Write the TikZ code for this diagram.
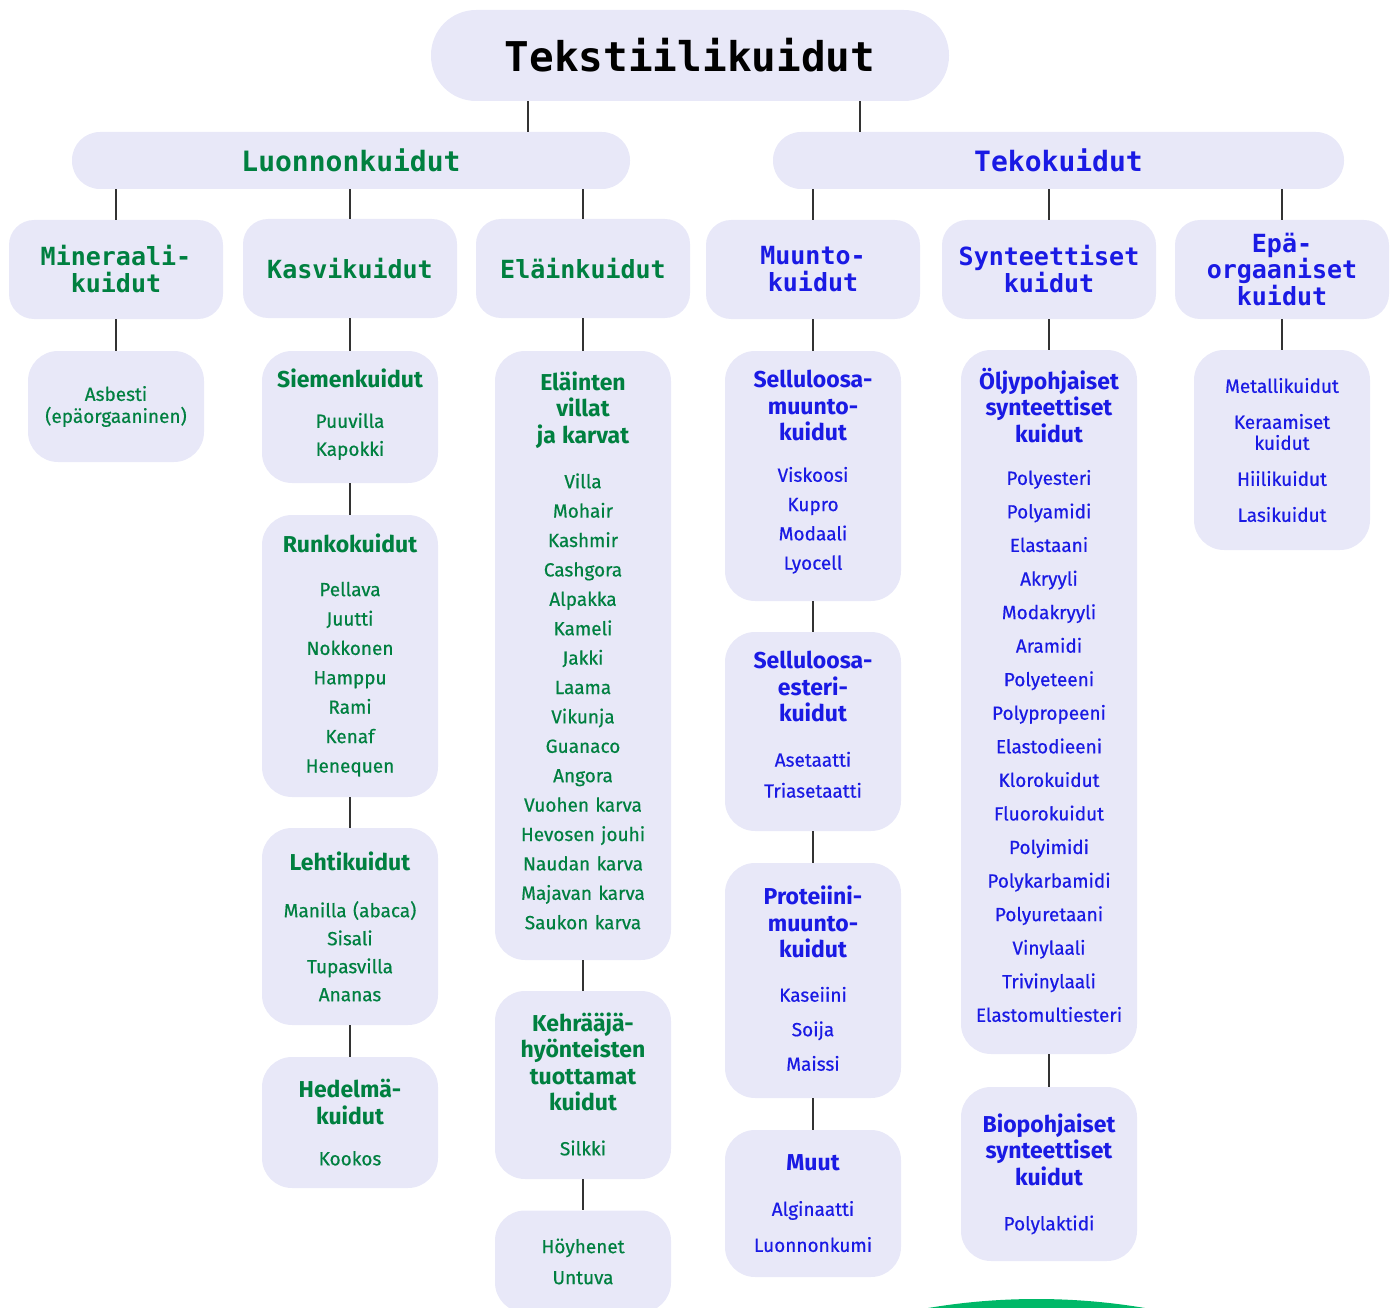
\documentclass[tikz,border=0pt]{standalone}
\usepackage{fontspec}
\setmainfont{Fira Sans}[UprightFeatures={FakeBold=0.5}]
\setmonofont{DejaVu Sans Mono}
\usepackage{tikz}
\definecolor{boxfill}{RGB}{232,232,248}
\definecolor{natgreen}{RGB}{0,128,64}
\definecolor{manblue}{RGB}{26,26,228}
\definecolor{arcgreen}{RGB}{0,184,104}
\newcommand{\grouphead}[1]{{\bfseries\fontsize{23}{26.5}\selectfont #1\par}}

\begin{document}
\begin{tikzpicture}[
    x=1pt, y=-1pt,
    rootbox/.style={fill=boxfill, rounded corners=45pt, minimum width=518pt, minimum height=91pt, font=\ttfamily\bfseries\fontsize{41}{41}\selectfont},
    branchbox/.style={fill=boxfill, rounded corners=28pt, minimum height=57pt, font=\ttfamily\bfseries\fontsize{28}{28}\selectfont},
    kindbox/.style={fill=boxfill, rounded corners=25pt, minimum width=214pt, minimum height=99pt, align=center, font=\ttfamily\bfseries\fontsize{25}{27}\selectfont},
    fibrebox/.style={fill=boxfill, rounded corners=30pt, minimum width=176pt, text width=170pt, inner sep=3pt, align=center},
    rows/.style={font=\fontsize{19}{#1}\selectfont},
    lift/.style={execute at end node={\endgraf\vspace{#1}}},
    natural/.style={text=natgreen},
    manmade/.style={text=manblue},
    link/.style={draw=black!80, line width=1.2pt}
]
    \useasboundingbox (0,0) rectangle (1395,1308);
    \clip (0,0) rectangle (1395,1308);

    % Root and main branches
    \node[rootbox] (root) at (690,55.5) {Tekstiilikuidut};
    \node[branchbox, natural, minimum width=558pt] (luonnon) at (351,160.5) {Luonnonkuidut};
    \node[branchbox, manmade, minimum width=571pt] (teko) at (1058.5,160.5) {Tekokuidut};

    % --- KINDS ---
    \node[kindbox, natural] (mineraali) at (116,269.5) {Mineraali-\\kuidut};
    \node[kindbox, natural] (kasvi) at (350,268.5) {Kasvikuidut};
    \node[kindbox, natural] (elain) at (583,268.5) {Eläinkuidut};
    \node[kindbox, manmade] (muunto) at (813,269.5) {Muunto-\\kuidut};
    \node[kindbox, manmade] (synt) at (1049,269.5) {Synteettiset\\kuidut};
    \node[kindbox, manmade] (epaorg) at (1282,269.5) {Epä-\\[-0.5pt]orgaaniset\\[-0.5pt]kuidut};

    % Mineral fibres
    \node[fibrebox, natural, rows=22, minimum height=111pt] (asbesti) at (116,406.5) {Asbesti\\(epäorgaaninen)};

    % Plant fibres
    \node[fibrebox, natural, rows=28, lift=5pt, minimum height=132pt] (siemen) at (350,417) {\grouphead{Siemenkuidut}\vspace{12pt}Puuvilla\\Kapokki};
    \node[fibrebox, natural, rows=29.4, lift=2pt, minimum height=282pt] (runko) at (350,656) {\grouphead{Runkokuidut}\vspace{14.6pt}Pellava\\Juutti\\Nokkonen\\Hamppu\\Rami\\Kenaf\\Henequen};
    \node[fibrebox, natural, rows=28, minimum height=197pt] (lehti) at (350,926.5) {\grouphead{Lehtikuidut}\vspace{19pt}Manilla (abaca)\\Sisali\\Tupasvilla\\Ananas};
    \node[fibrebox, natural, rows=27, minimum height=131pt] (hedelma) at (350,1122.5) {\grouphead{Hedelmä-\\kuidut}\vspace{14pt}Kookos};

    % Animal fibres
    \node[fibrebox, natural, rows=29.4, lift=10pt, minimum height=609pt] (villat) at (583,655.5) {\grouphead{Eläinten\\villat\\ja karvat}\vspace{15.6pt}Villa\\Mohair\\Kashmir\\Cashgora\\Alpakka\\Kameli\\Jakki\\Laama\\Vikunja\\Guanaco\\Angora\\Vuohen karva\\Hevosen jouhi\\Naudan karva\\Majavan karva\\Saukon karva};
    \node[fibrebox, natural, rows=26.7, lift=2pt, minimum height=188pt] (silkki) at (583,1085) {\grouphead{Kehrääjä-\\hyönteisten\\tuottamat\\kuidut}\vspace{18pt}Silkki};
    \node[fibrebox, natural, rows=31, minimum height=102pt] (hoyhenet) at (583,1261.5) {Höyhenet\\Untuva};

    % Regenerated fibres
    \node[fibrebox, manmade, rows=29.3, lift=8pt, minimum height=250pt] (sellmuunto) at (813,476) {\grouphead{Selluloosa-\\muunto-\\kuidut}\vspace{11.7pt}Viskoosi\\Kupro\\Modaali\\Lyocell};
    \node[fibrebox, manmade, rows=31, lift=14pt, minimum height=199pt] (sellesteri) at (813,731.5) {\grouphead{Selluloosa-\\esteri-\\kuidut}\vspace{14pt}Asetaatti\\Triasetaatti};
    \node[fibrebox, manmade, rows=34.5, lift=4pt, minimum height=235pt] (proteiini) at (813,980.5) {\grouphead{Proteiini-\\muunto-\\kuidut}\vspace{9.5pt}Kaseiini\\Soija\\Maissi};
    \node[fibrebox, manmade, rows=36, minimum height=147pt] (muut) at (813,1203.5) {\grouphead{Muut}\vspace{9pt}Alginaatti\\Luonnonkumi};

    % Synthetic fibres
    \node[fibrebox, manmade, rows=33.56, lift=14pt, minimum height=704pt] (oljy) at (1049,702) {\grouphead{Öljypohjaiset\\synteettiset\\kuidut}\vspace{9pt}Polyesteri\\Polyamidi\\Elastaani\\Akryyli\\Modakryyli\\Aramidi\\Polyeteeni\\Polypropeeni\\Elastodieeni\\Klorokuidut\\Fluorokuidut\\Polyimidi\\Polykarbamidi\\Polyuretaani\\Vinylaali\\Trivinylaali\\Elastomultiesteri};
    \node[fibrebox, manmade, rows=26.5, minimum height=174pt] (bio) at (1049,1174) {\grouphead{Biopohjaiset\\synteettiset\\kuidut}\vspace{18.5pt}Polylaktidi};

    % Inorganic fibres
    \node[fibrebox, manmade, rows=36, minimum height=200pt] (metalli) at (1282,450) {Metallikuidut\\Keraamiset\\[-15pt]kuidut\\Hiilikuidut\\Lasikuidut};

    % Connectors
    \draw[link] (root.south -| 528,0) -- (luonnon.north -| 528,0);
    \draw[link] (root.south -| 860,0) -- (teko.north -| 860,0);
    \foreach \k in {mineraali,kasvi,elain}
        \draw[link] (luonnon.south -| \k.north) -- (\k.north);
    \foreach \k in {muunto,synt,epaorg}
        \draw[link] (teko.south -| \k.north) -- (\k.north);
    \foreach \a/\b in {mineraali/asbesti, kasvi/siemen, siemen/runko, runko/lehti, lehti/hedelma,
                       elain/villat, villat/silkki, silkki/hoyhenet,
                       muunto/sellmuunto, sellmuunto/sellesteri, sellesteri/proteiini, proteiini/muut,
                       synt/oljy, oljy/bio, epaorg/metalli}
        \draw[link] (\a.south) -- (\b.north);

    % Green arc at the bottom edge
    \fill[arcgreen] (1036.5,1949) circle (650pt);
\end{tikzpicture}
\end{document}
